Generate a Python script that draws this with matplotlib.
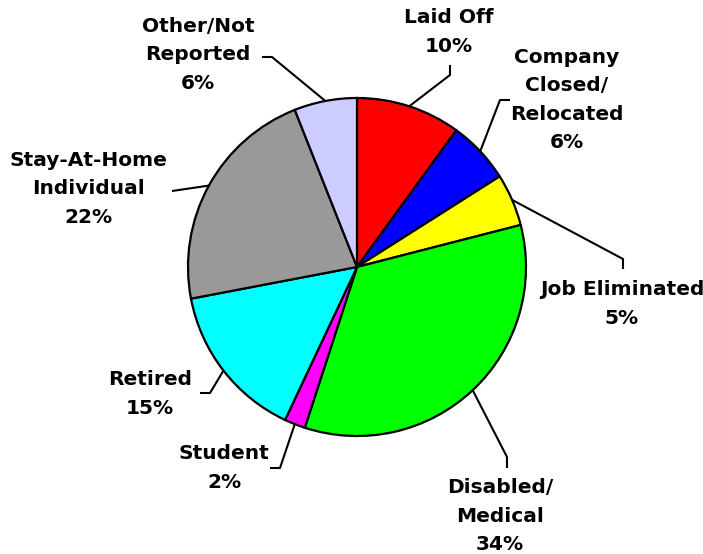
import matplotlib.pyplot as plt
import numpy as np

# data
labels = ['Laid Off', 'Company\nClosed/\nRelocated', 'Job Eliminated', 'Disabled/\nMedical',
          'Student', 'Retired', 'Stay-At-Home\nIndividual', 'Other/Not\nReported']
values = [10, 6, 5, 34, 2, 15, 22, 6]
colors = ['#ff0000', '#0000ff', '#ffff00', '#00ff00', '#ff00ff', '#00ffff', '#999999', '#ccccff']

# label layout (pixel coords, y down): text centre, elbow, line end
text_pos = [(449, 32), (567, 100), (622, 304), (500, 516), (224, 468), (150, 394), (88, 189), (198, 55)]
elbow = [(450, 75), (500, 100), (623, 259), (507, 457), (280, 468), (210, 393), (172, 191), (272, 57)]
line_end = [(450, 65), (510, 100), (623, 269), (507, 468), (270, 468), (200, 393), (172, 191), (262, 57)]

W, H = 703, 554
cx, cy, r = 357, H - 267, 169

fig = plt.figure(figsize=(7.03, 5.54), dpi=100)
ax = fig.add_axes([0, 0, 1, 1])

wedges, _ = ax.pie(values, colors=colors, startangle=90, counterclock=False,
                   center=(cx, cy), radius=r, frame=True,
                   wedgeprops=dict(edgecolor='black', linewidth=1.6))
ax.set_xlim(0, W)
ax.set_ylim(0, H)
ax.set_aspect('equal')
ax.axis('off')

for w, lab, v, tp, el, le in zip(wedges, labels, values, text_pos, elbow, line_end):
    mid = np.deg2rad((w.theta1 + w.theta2) / 2)
    ax_x, ax_y = cx + r * np.cos(mid), cy + r * np.sin(mid)
    ax.plot([ax_x, el[0], le[0]], [ax_y, H - el[1], H - le[1]], color='black', lw=1.5,
            solid_capstyle='butt', zorder=5)
    ax.text(tp[0], H - tp[1], '%s\n%d%%' % (lab, v), ha='center', va='center',
            fontsize=14.5, fontweight='bold', family='DejaVu Sans', linespacing=1.62)

fig.savefig('out.png', dpi=100)
